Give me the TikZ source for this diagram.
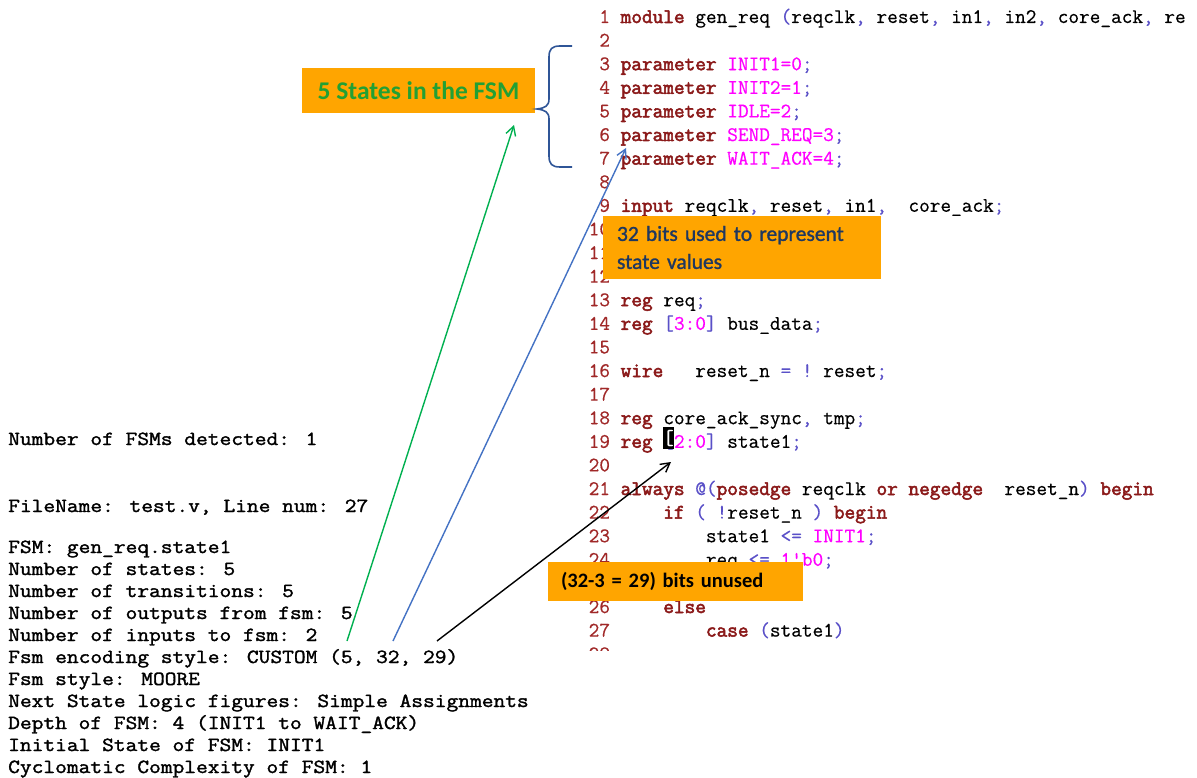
\documentclass[tikz,border=0pt]{standalone}
\usepackage{fontspec}
\usetikzlibrary{arrows.meta}
\setmainfont{Carlito}
\newfontfamily\notefont[FakeBold=1.2]{Carlito}
\newfontfamily\codefont[FakeBold=0.5]{Latin Modern Mono}
\newfontfamily\codekwfont[FakeBold=2.6]{Latin Modern Mono}
\newfontfamily\logfont[FakeBold=1.6,FakeStretch=1.14]{Latin Modern Mono}

\definecolor{kwred}{RGB}{139,26,26}
\definecolor{numred}{RGB}{160,40,40}
\definecolor{cmagenta}{RGB}{255,0,255}
\definecolor{pblue}{RGB}{90,80,200}
\definecolor{boxorange}{RGB}{255,165,0}
\definecolor{fsmgreen}{RGB}{34,160,52}
\definecolor{notenavy}{RGB}{31,56,96}
\definecolor{arrgreen}{RGB}{0,176,80}
\definecolor{arrblue}{RGB}{68,114,196}
\definecolor{bracecol}{RGB}{47,85,151}

% source listing highlighting
\newcommand\kwd[1]{{\codekwfont\color{kwred}#1}}
\newcommand\pun[1]{{\color{pblue}#1}}
\newcommand\cmag[1]{{\color{cmagenta}#1}}
\newcommand\lnum[1]{{\color{numred}#1}}
\newcommand\codeline[2]{\node[codeln] (c#1) at (588.5,{23+(#1-1)*23.6}) {#2};}

\tikzset{
  codeln/.style={anchor=base west, inner sep=0pt, font=\codefont\fontsize{20.7}{23.6}\selectfont},
  logln/.style={anchor=base west, inner sep=0pt, font=\logfont\fontsize{20}{22}\selectfont},
  obox/.style={fill=boxorange, draw=none, inner ysep=0pt},
  callout/.style={line width=1.4pt, -{Straight Barb[length=9pt,width=10pt,line width=1.4pt]}},
}

\begin{document}
\begin{tikzpicture}[x=1pt,y=-1pt]
\fill[white] (0,0) rectangle (1197,778);
\useasboundingbox (0,0) rectangle (1197,778);

% Verilog source listing
\codeline{1}{\lnum{~1}~\kwd{module}~gen\_req~\pun{(}reqclk\pun{,}~reset\pun{,}~in1\pun{,}~in2\pun{,}~core\_ack\pun{,}~re}
\codeline{2}{\lnum{~2}}
\codeline{3}{\lnum{~3}~\kwd{parameter}~\cmag{INIT1=0}\pun{;}}
\codeline{4}{\lnum{~4}~\kwd{parameter}~\cmag{INIT2=1}\pun{;}}
\codeline{5}{\lnum{~5}~\kwd{parameter}~\cmag{IDLE=2}\pun{;}}
\codeline{6}{\lnum{~6}~\kwd{parameter}~\cmag{SEND\_REQ=3}\pun{;}}
\codeline{7}{\lnum{~7}~\kwd{parameter}~\cmag{WAIT\_ACK=4}\pun{;}}
\codeline{8}{\lnum{~8}}
\codeline{9}{\lnum{~9}~\kwd{input}~reqclk\pun{,}~reset\pun{,}~in1\pun{,}~~core\_ack\pun{;}}
\codeline{10}{\lnum{10}}
\codeline{11}{\lnum{11}}
\codeline{12}{\lnum{12}}
\codeline{13}{\lnum{13}~\kwd{reg}~req\pun{;}}
\codeline{14}{\lnum{14}~\kwd{reg}~\pun{[}\cmag{3:0}\pun{]}~bus\_data\pun{;}}
\codeline{15}{\lnum{15}}
\codeline{16}{\lnum{16}~\kwd{wire}~~~reset\_n~\pun{=}~\pun{!}~reset\pun{;}}
\codeline{17}{\lnum{17}}
\codeline{18}{\lnum{18}~\kwd{reg}~core\_ack\_sync\pun{,}~tmp\pun{;}}
\codeline{19}{\lnum{19}~\kwd{reg}~\pun{[}\cmag{2:0}\pun{]}~state1\pun{;}}
\codeline{20}{\lnum{20}}
\codeline{21}{\lnum{21}~\kwd{always}~\pun{@(}\kwd{posedge}~reqclk~\kwd{or}~\kwd{negedge}~~reset\_n\pun{)}~\kwd{begin}}
\codeline{22}{\lnum{22}~~~~~\kwd{if}~\pun{(}~\pun{!}reset\_n~\pun{)}~\kwd{begin}}
\codeline{23}{\lnum{23}~~~~~~~~~state1~\pun{<=}~\cmag{INIT1}\pun{;}}
\codeline{24}{\lnum{24}~~~~~~~~~req~\pun{<=}~\cmag{1\textquotesingle b0}\pun{;}}
\codeline{25}{\lnum{25}}
\codeline{26}{\lnum{26}~~~~~\kwd{else}}
\codeline{27}{\lnum{27}~~~~~~~~~\kwd{case}~\pun{(}state1\pun{)}}
\begin{scope}
  \clip (580,640) rectangle (630,650);
  \codeline{28}{\lnum{28}}
\end{scope}

% editor cursor on line 19
\node[fill=black, inner sep=0pt, minimum width=9pt, minimum height=22pt,
      text=white, font=\codefont\fontsize{20.7}{23.6}\selectfont] (cursor) at (668.5,438) {[};

% analysis report
\node[logln] (r1) at (8,445) {Number of FSMs detected: 1};
\node[logln] (r2) at (8,512) {FileName: test.v, Line num: 27};
\node[logln] (r3) at (8,553) {FSM: gen\_req.state1};
\node[logln] (r4) at (8,575) {Number of states: 5};
\node[logln] (r5) at (8,597) {Number of transitions: 5};
\node[logln] (r6) at (8,619) {Number of outputs from fsm: 5};
\node[logln] (r7) at (8,641) {Number of inputs to fsm: 2};
\node[logln] (r8) at (8,663) {Fsm encoding style: CUSTOM (5, 32, 29)};
\node[logln] (r9) at (8,685) {Fsm style: MOORE};
\node[logln] (r10) at (8,707) {Next State logic figures: Simple Assignments};
\node[logln] (r11) at (8,729) {Depth of FSM: 4 (INIT1 to WAIT\_ACK)};
\node[logln] (r12) at (8,751) {Initial State of FSM: INIT1};
\node[logln] (r13) at (8,773) {Cyclomatic Complexity of FSM: 1};

% annotation boxes
\node[obox, minimum width=233pt, minimum height=45pt, text=fsmgreen,
      font=\bfseries\fontsize{25.5}{25.5}\selectfont] (states) at (418.5,90.5) {5 States in the FSM};
\node[obox, minimum width=278pt, minimum height=63pt, text width=250pt, inner xsep=14pt,
      align=left, text=notenavy, font=\notefont\fontsize{21.5}{28}\selectfont] (bits) at (742,247.5)
      {32 bits used to represent\\state values};
\node[obox, minimum width=255pt, minimum height=39pt, text width=229pt, inner xsep=13pt,
      align=left, text=black, font=\bfseries\fontsize{20.5}{20.5}\selectfont] (unused) at (675.5,581.5)
      {(32-3 = 29) bits unused};

% brace grouping the parameter lines
\draw[bracecol, line width=1.6pt]
  (572,46) -- (560,46) .. controls (552,46) and (549,49) .. (549,57)
  -- (549,99) .. controls (549,106) and (545,108) .. (537,109)
  .. controls (545,110) and (549,112) .. (549,119)
  -- (549,156) .. controls (549,164) and (552,167) .. (560,167) -- (572,167);

% callout arrows from the encoding triple
\coordinate (g0) at (347,641);
\coordinate (g1) at (514,125);
\coordinate (u0) at (393,641);
\coordinate (u1) at (626,148);
\coordinate (k0) at (437,641);
\coordinate (k1) at (671,462);
\draw[callout, arrgreen] (g0) -- (g1);
\draw[callout, arrblue] (u0) -- (u1);
\draw[callout, black] (k0) -- (k1);
\end{tikzpicture}
\end{document}
